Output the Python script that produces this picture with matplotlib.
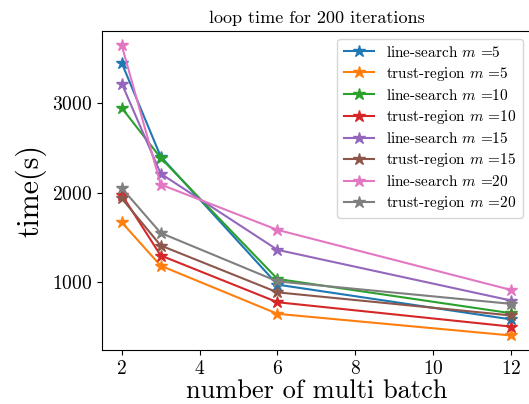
import numpy as np
import matplotlib
matplotlib.use('Agg')
import matplotlib.pyplot as plt

# fonte parecida com latex
plt.rcParams['font.family'] = 'serif'
plt.rcParams['font.serif'] = ['cmr10', 'DejaVu Serif']
plt.rcParams['mathtext.fontset'] = 'cm'
plt.rcParams['axes.formatter.use_mathtext'] = True

# Dados
batches = [2, 3, 6, 12]
ls_m5 = [3440, 2400, 975, 588]
tr_m5 = [1668, 1185, 650, 409]
ls_m10 = [2941, 2385, 1038, 657]
tr_m10 = [1975, 1299, 779, 508]
ls_m15 = [3212, 2210, 1362, 798]
tr_m15 = [1934, 1410, 889, 632]
ls_m20 = [3636, 2089, 1584, 916]
tr_m20 = [2049, 1550, 1011, 761]

series = [ls_m5, tr_m5, ls_m10, tr_m10, ls_m15, tr_m15, ls_m20, tr_m20]
labels = [r'line-search $m$ =5', r'trust-region $m$ =5',
          r'line-search $m$ =10', r'trust-region $m$ =10',
          r'line-search $m$ =15', r'trust-region $m$ =15',
          r'line-search $m$ =20', r'trust-region $m$ =20']

fig = plt.figure(figsize=(5.29, 4.04), dpi=100)
ax = fig.add_axes([0.1934, 0.1337, 0.8094, 0.7896])

for y, lab in zip(series, labels):
    ax.plot(batches, y, marker='*', markersize=9, label=lab)

ax.set_title('loop time for 200 iterations', fontsize=13)
ax.set_xlabel('number of multi batch', fontsize=19, labelpad=1)
ax.set_ylabel('time(s)', fontsize=21.5)
ax.set_xticks([2, 4, 6, 8, 10, 12])
ax.set_yticks([1000, 2000, 3000])
ax.tick_params(labelsize=14)
ax.legend(loc='upper right', fontsize=11, labelspacing=0.33)

plt.savefig('out.png', dpi=100)
